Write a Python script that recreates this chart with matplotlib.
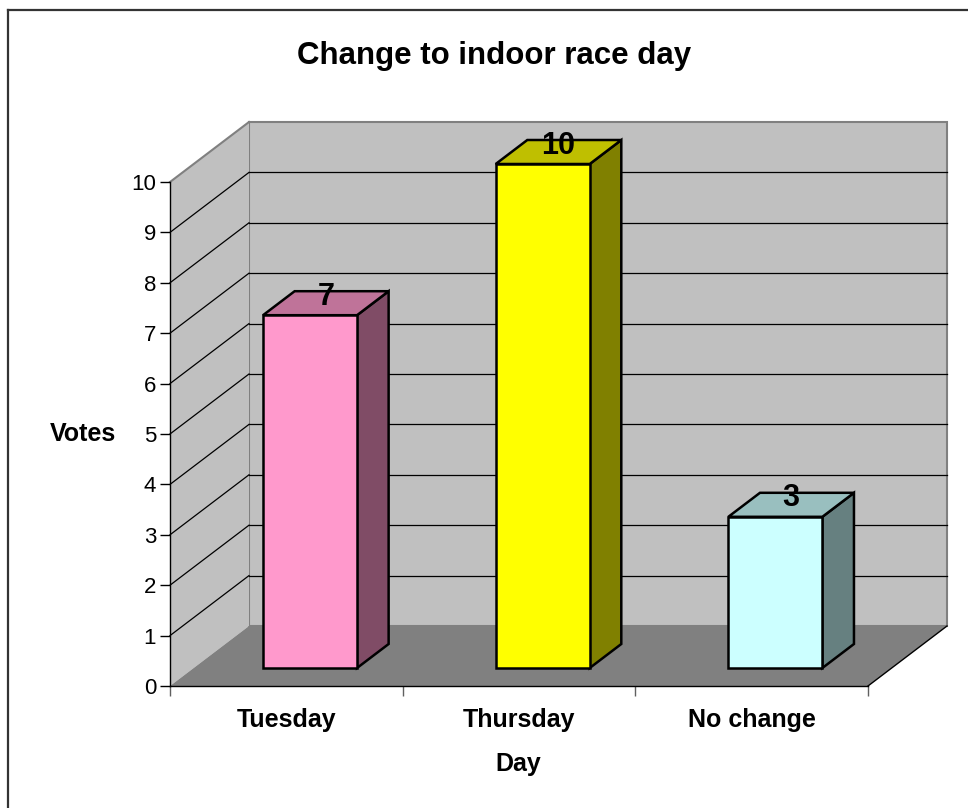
import matplotlib
matplotlib.use("Agg")
import matplotlib.pyplot as plt
from matplotlib.patches import Polygon
from matplotlib.lines import Line2D

categories = ["Tuesday", "Thursday", "No change"]
votes = [7, 10, 3]
front_colors = ["#FF99CC", "#FFFF00", "#CCFFFF"]
top_colors = ["#BF7399", "#BFBF00", "#99BFBF"]
side_colors = ["#804C66", "#808000", "#668080"]
yticks = list(range(0, 11))
title = "Change to indoor race day"
xlabel = "Day"
ylabel = "Votes"

FONT = "Liberation Sans"
W, H = 968, 808
fig = plt.figure(figsize=(W / 100, H / 100), dpi=100)
fig.patch.set_facecolor("white")

# axes: front plane, x 0..3 -> px 170..868, y 0..10 -> px 686..182
L, R, B, T = 170, 868, 686, 182
ax = fig.add_axes([L / W, (H - B) / H, (R - L) / W, (B - T) / H])
ax.set_xlim(0, len(categories))
ax.set_ylim(0, 10)
ax.patch.set_alpha(0)

# depth vector in data units
DX = 79 / (R - L) * len(categories)
DY = 60 / ((B - T) / 10)
ymax = 10
n = len(categories)


def off(p, f):
    return (p[0] + f * DX, p[1] + f * DY)


# walls
back = Polygon([off((0, 0), 1), off((n, 0), 1), off((n, ymax), 1), off((0, ymax), 1)],
               closed=True, facecolor="#C0C0C0", edgecolor="#808080", lw=1.5, zorder=1, clip_on=False)
ax.add_patch(back)
side = Polygon([(0, 0), (0, ymax), off((0, ymax), 1), off((0, 0), 1)],
               closed=True, facecolor="#C0C0C0", edgecolor="none", zorder=1, clip_on=False)
ax.add_patch(side)
ax.plot([0, DX], [ymax, ymax + DY], color="#808080", lw=1.5, zorder=1.2, clip_on=False)
floor = Polygon([(0, 0), (n, 0), off((n, 0), 1), off((0, 0), 1)],
                closed=True, facecolor="#808080", edgecolor="none", zorder=1.1, clip_on=False)
ax.add_patch(floor)
ax.plot([n, n + DX], [0, DY], color="black", lw=1, zorder=1.3, clip_on=False)

# gridlines
for v in yticks[1:-1]:
    ax.plot([DX, n + DX], [v + DY, v + DY], color="black", lw=0.9, zorder=1.05, clip_on=False)
    ax.plot([0, DX], [v, v + DY], color="black", lw=0.9, zorder=1.05, clip_on=False)

# bars
bw = 0.404
for i, (c, v) in enumerate(zip(categories, votes)):
    xc = i + 0.5
    x0, x1 = xc - bw / 2, xc + bw / 2
    f0, f1 = 0.3, 0.7
    front = [off((x0, 0), f0), off((x1, 0), f0), off((x1, v), f0), off((x0, v), f0)]
    top = [off((x0, v), f0), off((x1, v), f0), off((x1, v), f1), off((x0, v), f1)]
    sidef = [off((x1, 0), f0), off((x1, 0), f1), off((x1, v), f1), off((x1, v), f0)]
    for pts, col in ((sidef, side_colors[i]), (top, top_colors[i]), (front, front_colors[i])):
        ax.add_patch(Polygon(pts, closed=True, facecolor=col, edgecolor="black", lw=1.8,
                             joinstyle="miter", zorder=3, clip_on=False))
    lx, ly = off((xc, v), 0.5)
    ax.text(lx, ly - 0.03, str(v), ha="center", va="baseline", fontsize=22, fontweight="bold",
            family=FONT, zorder=5, clip_on=False)

# axes styling
for s in ("top", "right"):
    ax.spines[s].set_visible(False)
ax.spines["left"].set_color("black")
ax.spines["bottom"].set_color("black")
ax.spines["left"].set_linewidth(1)
ax.spines["bottom"].set_linewidth(1)
ax.spines["left"].set_zorder(2)
ax.spines["bottom"].set_zorder(2)
ax.set_yticks(yticks)
ax.set_yticklabels([str(t) for t in yticks], fontsize=16, family=FONT)
ax.tick_params(axis="y", direction="out", length=7, width=1, pad=3, color="black")
ax.set_xticks(range(n + 1))
ax.set_xticklabels([""] * (n + 1))
ax.tick_params(axis="x", which="major", direction="out", length=7, width=1, color="#606060")
ax.set_xticks([i + 0.5 for i in range(n)], minor=True)
ax.set_xticklabels(categories, minor=True, fontsize=18, fontweight="bold", family=FONT)
ax.tick_params(axis="x", which="minor", length=0, pad=16)

# titles
fig.text(494 / W, 1 - 56 / H, title, ha="center", va="center", fontsize=22.5,
         fontweight="bold", family=FONT)
fig.text(83 / W, 1 - 434 / H, ylabel, ha="center", va="center", fontsize=18,
         fontweight="bold", family=FONT)
fig.text(518 / W, 1 - 764 / H, xlabel, ha="center", va="center", fontsize=18,
         fontweight="bold", family=FONT)

# chart area border (left and top visible)
fig.add_artist(Line2D([8 / W, 8 / W], [0, 1 - 10 / H], color="#333333", lw=1.6))
fig.add_artist(Line2D([8 / W, 1], [1 - 10 / H, 1 - 10 / H], color="#333333", lw=1.6))

fig.savefig("out.png", dpi=100)
